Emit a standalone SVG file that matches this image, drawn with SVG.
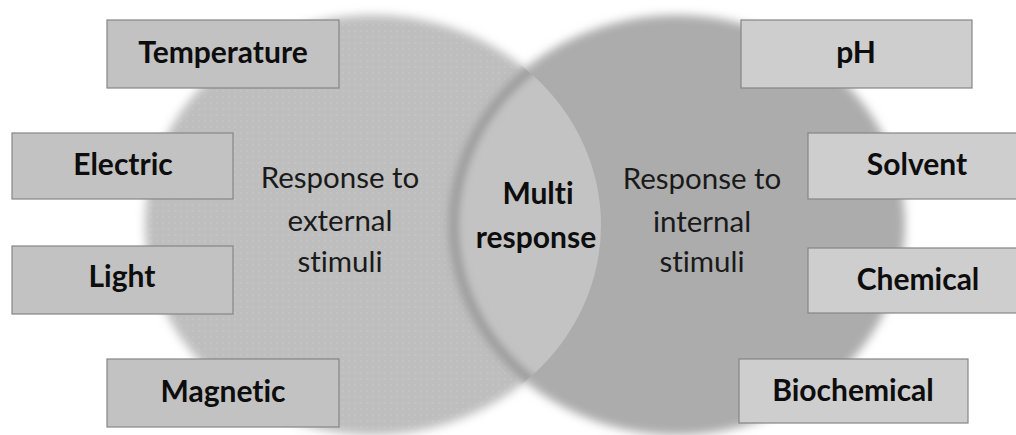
<svg xmlns="http://www.w3.org/2000/svg" width="1016" height="435" viewBox="0 0 1016 435">
<style>
text{font-variant-ligatures:none;font-feature-settings:"liga" 0,"dlig" 0}
.box{stroke:#858585;stroke-width:1.2}
.bl{fill:#c2c2c2}
.br{fill:#cecece}
.bt{font-family:Lato,"Liberation Sans",sans-serif;font-weight:bold;font-size:30px;fill:#0d0d0d;text-anchor:middle}
.ct{font-family:Lato,"Liberation Sans",sans-serif;font-size:29.5px;fill:#1a1a1a;text-anchor:middle}
.mt{font-family:Lato,"Liberation Sans",sans-serif;font-weight:bold;font-size:30px;fill:#0d0d0d;text-anchor:middle}
</style>
<defs>
<filter id="soft" x="-10%" y="-10%" width="120%" height="120%"><feGaussianBlur stdDeviation="5"/></filter>
<filter id="shadow" x="-20%" y="-20%" width="140%" height="140%"><feGaussianBlur stdDeviation="4"/></filter>
<clipPath id="leftClip"><ellipse cx="373" cy="225" rx="228" ry="210"/></clipPath>
<pattern id="dots" width="6" height="6" patternUnits="userSpaceOnUse"><circle cx="1" cy="1" r="0.6" fill="#ffffff" fill-opacity="0.35"/></pattern>
</defs>
<rect width="1016" height="435" fill="#ffffff"/>
<g id="circles">
<g filter="url(#soft)">
<ellipse cx="373" cy="225" rx="228" ry="210" fill="#bebebe"/>
<ellipse cx="677" cy="225" rx="228" ry="210" fill="#acacac"/>
</g>
<ellipse cx="373" cy="225" rx="224" ry="206" fill="url(#dots)"/>
<g clip-path="url(#leftClip)">
<ellipse cx="677" cy="225" rx="228" ry="210" fill="#c3c3c3" filter="url(#soft)"/>
<ellipse cx="677" cy="225" rx="223" ry="205" fill="none" stroke="#909090" stroke-width="7" filter="url(#shadow)"/>
</g>
</g>
<g id="center-labels">
<text class="ct" x="340" y="188">Response to</text>
<text class="ct" x="340" y="231">external</text>
<text class="ct" x="340" y="272">stimuli</text>
<text class="ct" x="702" y="189">Response to</text>
<text class="ct" x="702" y="232">internal</text>
<text class="ct" x="702" y="272">stimuli</text>
</g>
<g id="multi">
<text class="mt" x="538" y="204">Multi</text>
<text class="mt" x="536" y="248">response</text>
</g>
<g id="temperature"><rect class="box bl" x="107" y="20" width="232" height="68"/><text class="bt" x="223" y="63">Temperature</text></g>
<g id="electric"><rect class="box bl" x="12" y="133" width="221" height="66"/><text class="bt" x="123" y="175">Electric</text></g>
<g id="light"><rect class="box bl" x="12" y="246" width="221" height="68"/><text class="bt" x="122" y="287">Light</text></g>
<g id="magnetic"><rect class="box bl" x="107" y="359" width="232" height="68"/><text class="bt" x="223" y="402">Magnetic</text></g>
<g id="ph"><rect class="box br" x="741" y="20" width="231" height="68"/><text class="bt" x="856" y="63">pH</text></g>
<g id="solvent"><rect class="box br" x="808" y="133" width="210" height="66"/><text class="bt" x="917" y="175">Solvent</text></g>
<g id="chemical"><rect class="box br" x="808" y="248" width="210" height="65"/><text class="bt" x="918" y="290">Chemical</text></g>
<g id="biochemical"><rect class="box br" x="739" y="359" width="229" height="64"/><text class="bt" x="853" y="401">Biochemical</text></g>
<g id="connectors"/>
</svg>
